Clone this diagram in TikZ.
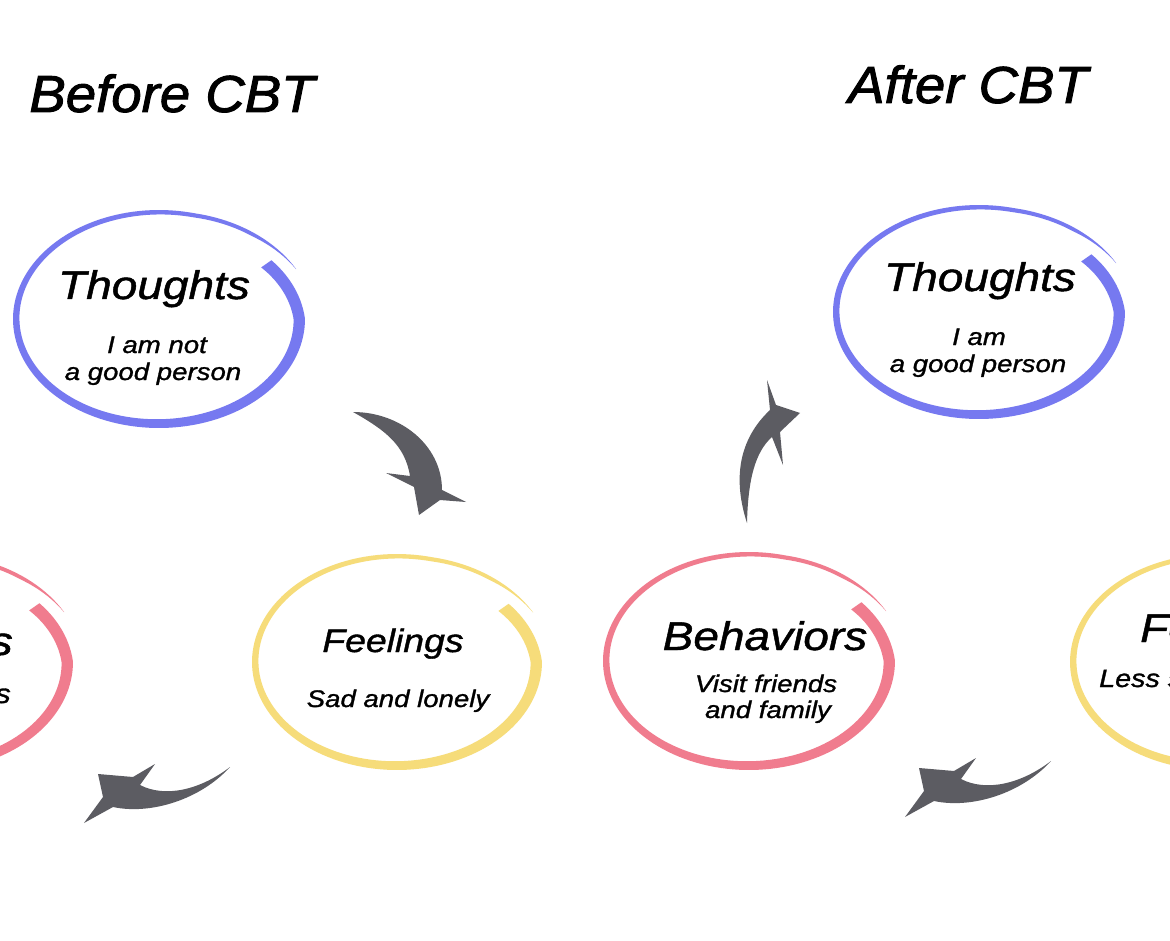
\documentclass[tikz,border=0pt]{standalone}
\usepackage{fontspec}
\setmainfont{Liberation Sans}
\newfontfamily\titlefont[FakeStretch=1.05,FakeBold=1.8]{Liberation Sans}
\newfontfamily\lblfont[FakeStretch=1.15,FakeBold=1.2]{Liberation Sans}
\definecolor{ringblue}{RGB}{118,121,240}
\definecolor{ringpink}{RGB}{240,124,142}
\definecolor{ringyellow}{RGB}{246,220,122}
\definecolor{swooshgrey}{RGB}{92,92,98}
\newcommand{\brushring}[5]{%
  \fill[#5] plot[domain=26:395,samples=150,variable=\t]
    ({#1+#3*sout(\t)*cos(\t)},{#2-#4*sout(\t)*sin(\t)})
    -- plot[domain=395:26,samples=150,variable=\t]
    ({#1+(#3*sout(\t)-wid(\t))*cos(\t)},{#2-(#4*sout(\t)-wid(\t))*sin(\t)}) -- cycle;}
\tikzset{
  cbttitle/.style={font=\titlefont\itshape\fontsize{52}{60}\selectfont, inner sep=0, anchor=base},
  ringhead/.style={font=\lblfont\itshape\fontsize{40}{48}\selectfont, inner sep=0, anchor=base},
  ringbody/.style={font=\lblfont\itshape\fontsize{24}{27}\selectfont, inner sep=0, anchor=base},
  swoosh/.style={fill=swooshgrey},
}
\begin{document}
\begin{tikzpicture}[x=1pt,y=-1pt,
  declare function={sout(\t)=1+0.045*max(0,1-(\t-26)/50)-0.06*max(0,(\t-360)/35);
    wid(\t)=(3.5+9*((\t-25)/370)^1.3)*min(1,(\t-25)/25);}]
\useasboundingbox (0,0) rectangle (1170,941);
\fill[white] (0,0) rectangle (1170,941);
\clip (0,0) rectangle (1170,941);

\brushring{159}{319}{146}{109}{ringblue}
\brushring{979}{312}{146}{107}{ringblue}
\brushring{397}{662}{145}{108}{ringyellow}
\brushring{1215}{662}{145}{108}{ringyellow}
\brushring{749}{661}{146}{109}{ringpink}
\brushring{-73}{662}{146}{109}{ringpink}

\node (before) [cbttitle] at (172,112) {Before CBT};
\node (after) [cbttitle] at (968,103) {After CBT};

\node (thoughtsL) [ringhead] at (154,299) {Thoughts};
\node (thoughtsL1) [ringbody] at (157,353) {I am not};
\node (thoughtsL2) [ringbody] at (153,380) {a good person};

\node (feelingsL) [ringhead, font=\lblfont\itshape\fontsize{32.5}{40}\selectfont] at (393,652) {Feelings};
\node (feelingsL1) [ringbody] at (398,707) {Sad and lonely};

\node (behaviorsL) [ringhead, anchor=base east] at (13,655) {Behaviors};
\node (behaviorsL1) [ringbody, anchor=base east, font=\lblfont\itshape\fontsize{27}{32}\selectfont] at (11,703) {s};

\node (thoughtsR) [ringhead] at (980,291) {Thoughts};
\node (thoughtsR1) [ringbody] at (979,345) {I am};
\node (thoughtsR2) [ringbody] at (978,372) {a good person};

\node (behaviorsR) [ringhead] at (765,650) {Behaviors};
\node (behaviorsR1) [ringbody] at (766,692) {Visit friends};
\node (behaviorsR2) [ringbody] at (768,718) {and family};

\node (feelingsR) [ringhead, anchor=base west] at (1140,642) {Feelings};
\node (feelingsR1) [ringbody, anchor=base west, font=\lblfont\itshape\fontsize{25}{30}\selectfont] at (1099,687) {Less s};

\fill[swoosh] (353,412) .. controls (400,412) and (442,445) .. (442,490) -- (466,502) -- (440,500)
  -- (419,515) -- (414,487) -- (386,473) -- (410,476) .. controls (405,445) and (385,430) .. (353,412) -- cycle;
\fill[swoosh] (230,767) .. controls (200,800) and (150,815) .. (113,807) -- (84,823) -- (103,797)
  -- (98,774) -- (133,777) -- (155,764) -- (140,785) .. controls (165,798) and (200,790) .. (230,767) -- cycle;
\fill[swoosh, shift={(821,-6)}] (230,767) .. controls (200,800) and (150,815) .. (113,807) -- (84,823) -- (103,797)
  -- (98,774) -- (133,777) -- (155,764) -- (140,785) .. controls (165,798) and (200,790) .. (230,767) -- cycle;
\fill[swoosh] (747,523) .. controls (733,480) and (738,440) .. (770,410) -- (767,380) -- (776,405)
  -- (800,413) -- (780,432) -- (783,465) -- (772,437) .. controls (755,452) and (748,480) .. (747,523) -- cycle;
\end{tikzpicture}
\end{document}
